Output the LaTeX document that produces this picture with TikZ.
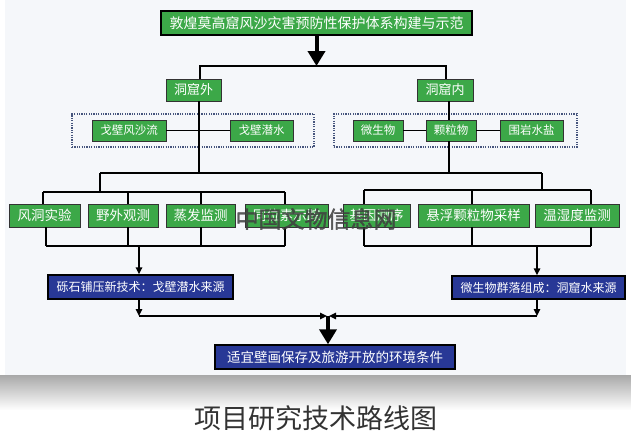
\documentclass[tikz,border=0pt]{standalone}
\usepackage{fontspec}
\newfontfamily\cjk{Noto Sans CJK SC}
\newfontfamily\cjkwm[FakeBold=1.5]{Noto Sans CJK SC}
\usetikzlibrary{arrows.meta}
\definecolor{gbox}{RGB}{60,168,72}
\definecolor{bbox}{RGB}{40,56,150}
\definecolor{panel}{RGB}{245,247,250}
\definecolor{dotc}{RGB}{70,85,125}
\begin{document}
\begin{tikzpicture}[x=1pt,y=-1pt,
  every node/.style={font=\cjk},
  titlebox/.style={draw=black, line width=2.6pt, fill=gbox, text=white, inner sep=0pt,
    font=\cjk\fontsize{14}{14}\selectfont},
  gtwo/.style={draw=black!80, line width=0.8pt, fill=gbox, text=white, inner sep=0pt,
    minimum height=22pt, font=\cjk\fontsize{13}{13}\selectfont},
  gthree/.style={draw=black!80, line width=0.8pt, fill=gbox, text=white, inner sep=0pt,
    minimum height=21pt, font=\cjk\fontsize{11.5}{11.5}\selectfont},
  rowbox/.style={draw=black!80, line width=0.8pt, fill=gbox, text=white, inner sep=0pt,
    minimum height=23pt, font=\cjk\fontsize{13.5}{13.5}\selectfont},
  bluebox/.style={draw=black, line width=1.4pt, fill=bbox, text=white, inner sep=0pt,
    minimum height=24pt, font=\cjk\fontsize{12}{12}\selectfont},
  dotbox/.style={draw=dotc, line width=1.1pt, dash pattern=on 1.2pt off 1.2pt, inner sep=0pt},
  conn/.style={line width=1.5pt, draw=black},
  arr/.style={conn, -{Triangle[length=7pt,width=6.5pt]}},
  bigarr/.style={line width=4pt, draw=black, -{Triangle[length=15pt,width=17pt]}}
]
\useasboundingbox (0,0) rectangle (631,437);
% panel and shadow
\fill[white] (0,0) rectangle (631,437);
\shade[top color=black!34, bottom color=white] (0,375) rectangle (631,410);
\fill[panel] (5,0) rectangle (626,375);

% title
\node[titlebox, minimum width=311pt, minimum height=24pt] (title) at (316.5,23) {敦煌莫高窟风沙灾害预防性保护体系构建与示范};

% level 2
\node[gtwo, minimum width=55pt] (out) at (193.5,90) {洞窟外};
\node[gtwo, minimum width=56pt] (in) at (445,90) {洞窟内};

% dotted groups
\node[dotbox, minimum width=242pt, minimum height=33pt] (dl) at (193,130.5) {};
\node[dotbox, minimum width=243pt, minimum height=33pt] (dr) at (455.5,130.5) {};

% level 3
\node[gthree, minimum width=74pt] (gbfsl) at (129,130.5) {戈壁风沙流};
\node[gthree, minimum width=63pt] (gbqs) at (261.5,130.5) {戈壁潜水};
\node[gthree, minimum width=50pt] (wsw) at (378,130.5) {微生物};
\node[gthree, minimum width=50pt] (klw) at (451,130.5) {颗粒物};
\node[gthree, minimum width=63pt] (wysy) at (531.5,130.5) {围岩水盐};

% row of methods
\node[rowbox, minimum width=71pt] (fdsy) at (44.5,215.5) {风洞实验};
\node[rowbox, minimum width=70pt] (ywgc) at (123,215.5) {野外观测};
\node[rowbox, minimum width=69pt] (zfjc) at (200.5,215.5) {蒸发监测};
\node[rowbox, minimum width=83pt] (tws) at (286.5,215.5) {同位素示踪};
\node[rowbox, minimum width=67pt] (jycx) at (376.5,215.5) {基因测序};
\node[rowbox, minimum width=111pt] (xf) at (473.5,215.5) {悬浮颗粒物采样};
\node[rowbox, minimum width=84pt] (wsd) at (577,215.5) {温湿度监测};

% results
\node[bluebox, minimum width=185pt] (bl) at (140.5,287) {砾石铺压新技术：戈壁潜水来源};
\node[bluebox, minimum width=173pt, minimum height=23pt] (br) at (538.5,287.5) {微生物群落组成：洞窟水来源};
\node[bluebox, minimum width=240pt, font=\cjk\fontsize{13.5}{13.5}\selectfont] (bot) at (335,357) {适宜壁画保存及旅游开放的环境条件};

% coordinates
\coordinate (busL) at (200,66);
\coordinate (busR) at (446,66);
\coordinate (lx) at (199,173);
\coordinate (rx) at (449,173);
\coordinate (cL) at (100,173);
\coordinate (cR) at (542,173);
\coordinate (ltop) at (100,192);
\coordinate (rtop) at (542,190);
\coordinate (lbot) at (46,246);
\coordinate (rbot) at (364,246);
\coordinate (m) at (328,316);

% top
\draw[bigarr] (title.south) -- (title.south |- busL);
\draw[conn] (out.north -| busL) |- (busR) -- (in.north -| busR);

% outside trunk
\draw[conn] (out.south -| lx) -- (lx);
\draw[conn] (gbfsl) -- (gbqs);
% inside trunk
\draw[conn] (in.south -| rx) -- (klw.north -| rx);
\draw[conn] (klw.south -| rx) -- (rx);
\draw[conn] (wsw) -- (klw);
\draw[conn] (klw) -- (wysy);

% main bus
\draw[conn] (cL) -- (cR);
\draw[conn] (cL) -- (ltop);
\draw[conn] (cR) -- (rtop);

% left group top
\draw[conn] ([xshift=-1.5pt]fdsy.north |- ltop) -- ([xshift=-1.5pt]tws.north |- ltop);
\draw[conn] ([xshift=-1.5pt]fdsy.north |- ltop) -- ([xshift=-1.5pt]fdsy.north);
\draw[conn] ([xshift=5pt]ywgc.north |- ltop) -- ([xshift=5pt]ywgc.north);
\draw[conn] ([xshift=0.5pt]zfjc.north |- ltop) -- ([xshift=0.5pt]zfjc.north);
\draw[conn] ([xshift=-1.5pt]tws.north |- ltop) -- ([xshift=-1.5pt]tws.north);
% left group bottom
\draw[conn] ([xshift=1.5pt]fdsy.south |- lbot) -- ([xshift=-1.5pt]tws.south |- lbot);
\draw[conn] ([xshift=1.5pt]fdsy.south) -- ([xshift=1.5pt]fdsy.south |- lbot);
\draw[conn] ([xshift=5pt]ywgc.south) -- ([xshift=5pt]ywgc.south |- lbot);
\draw[conn] ([xshift=0.5pt]zfjc.south) -- ([xshift=0.5pt]zfjc.south |- lbot);
\draw[conn] ([xshift=-1.5pt]tws.south) -- ([xshift=-1.5pt]tws.south |- lbot);
\draw[arr] ([xshift=-1.5pt]bl.north |- lbot) -- ([xshift=-1.5pt]bl.north);

% right group top
\draw[conn] ([xshift=-12.5pt]jycx.north |- rtop) -- ([xshift=14pt]wsd.north |- rtop);
\draw[conn] ([xshift=-12.5pt]jycx.north |- rtop) -- ([xshift=-12.5pt]jycx.north);
\draw[conn] ([xshift=-1.5pt]xf.north |- rtop) -- ([xshift=-1.5pt]xf.north);
\draw[conn] ([xshift=14pt]wsd.north |- rtop) -- ([xshift=14pt]wsd.north);
% right group bottom
\draw[conn] ([xshift=-12.5pt]jycx.south |- rbot) -- ([xshift=14pt]wsd.south |- rbot);
\draw[conn] ([xshift=-12.5pt]jycx.south) -- ([xshift=-12.5pt]jycx.south |- rbot);
\draw[conn] ([xshift=-1.5pt]xf.south) -- ([xshift=-1.5pt]xf.south |- rbot);
\draw[conn] ([xshift=14pt]wsd.south) -- ([xshift=14pt]wsd.south |- rbot);
\draw[arr] ([xshift=-1.5pt]br.north |- rbot) -- ([xshift=-1.5pt]br.north);

% bottom merge
\draw[arr] ([xshift=-1.5pt]bl.south) -- ([xshift=-1.5pt]bl.south |- m);
\draw[arr] ([xshift=-1.5pt]br.south) -- ([xshift=-1.5pt]br.south |- m);
\draw[arr] ([xshift=-1.5pt]bl.south |- m) -- ([xshift=-1pt]m);
\draw[arr] ([xshift=-1.5pt]br.south |- m) -- ([xshift=1pt]m);
\draw[bigarr] (m) -- (m |- bot.north);

% watermark
\node[font=\cjkwm\fontsize{23}{23}\selectfont, text=black!75, opacity=0.85] (wm) at (316,219) {中国文物信息网};

% caption
\node[font=\cjk\fontsize{27}{27}\selectfont, text=black!80] (cap) at (316,418) {项目研究技术路线图};
\end{tikzpicture}
\end{document}
